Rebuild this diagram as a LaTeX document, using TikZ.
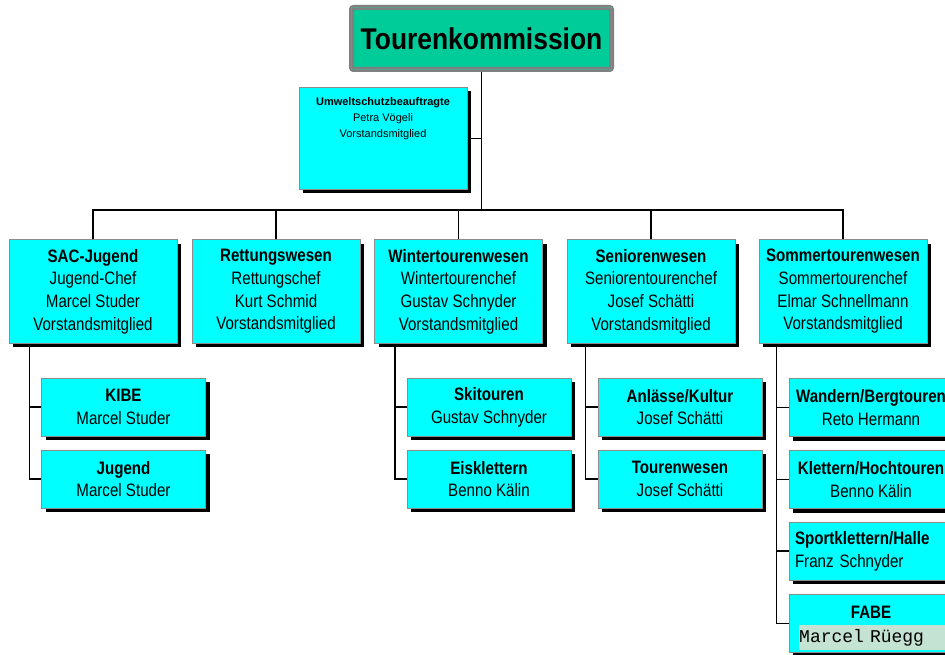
\documentclass[tikz,border=0pt]{standalone}
\usepackage{fontspec}
\setmainfont{Liberation Sans}
\newfontfamily\narrowfont[FakeStretch=0.84]{Liberation Sans}
\newfontfamily\titlefont[FakeStretch=0.88]{Liberation Sans}
\newfontfamily\mymono{Liberation Mono}
\usetikzlibrary{shadows}
\definecolor{cyanbox}{HTML}{00FFFF}
\definecolor{titlegreen}{HTML}{00CC99}
\definecolor{boxgray}{HTML}{8C8C8C}
\definecolor{titlegray}{HTML}{7F7F7F}
\definecolor{titleline}{HTML}{5E9E8A}
\definecolor{monobg}{HTML}{C5E3D2}
\begin{document}
\begin{tikzpicture}[x=1pt,y=-1pt,
  conn/.style={draw=black, line width=1.1pt},
  box/.style={draw=boxgray, line width=1pt, fill=cyanbox,
    drop shadow={shadow xshift=4pt, shadow yshift=-4pt, fill=black, opacity=1},
    inner sep=0pt, align=center, font=\narrowfont\fontsize{18}{22.7}\selectfont},
  mainbox/.style={box, minimum width=168pt, minimum height=103pt},
  subbox/.style={box, minimum width=164pt, minimum height=58pt},
  titlebox/.style={draw=titlegray, line width=5pt, rounded corners=2pt, fill=titlegreen,
    minimum width=260pt, minimum height=62pt, inner sep=0pt,
    font=\titlefont\bfseries\fontsize{30}{36}\selectfont}
]
\useasboundingbox (0,0) rectangle (945,655);
\fill[white] (0,0) rectangle (945,655);

% title
\node[titlebox] (tk) at (481.5,38.5) {Tourenkommission};
\draw[titleline, line width=0.6pt] ([shift={(2.5,2.5)}]tk.north west) rectangle ([shift={(-2.5,-2.5)}]tk.south east);

% Umwelt
\node[box, font=\fontsize{11}{16}\selectfont] (uw) at (383,138.5)
  {\parbox[c][102pt][t]{168pt}{\centering\vspace{10pt}\textbf{Umweltschutzbeauftragte}\\Petra Vögeli\\Vorstandsmitglied}};

% main boxes
\node[mainbox] (sac) at (93,291.5) {\textbf{SAC-Jugend}\\Jugend-Chef\\Marcel Studer\\Vorstandsmitglied};
\node[mainbox] (ret) at (276,291.5) {\textbf{Rettungswesen}\\Rettungschef\\Kurt Schmid\\Vorstandsmitglied};
\node[mainbox] (win) at (458.5,291.5) {\textbf{Wintertourenwesen}\\Wintertourenchef\\Gustav Schnyder\\Vorstandsmitglied};
\node[mainbox] (sen) at (651,291.5) {\textbf{Seniorenwesen}\\Seniorentourenchef\\Josef Schätti\\Vorstandsmitglied};
\node[mainbox] (som) at (843,291.5) {\textbf{Sommertourenwesen}\\Sommertourenchef\\Elmar Schnellmann\\Vorstandsmitglied};

% sub boxes
\node[subbox] (kibe) at (123.5,407) {\textbf{KIBE}\\Marcel Studer};
\node[subbox] (jug) at (123.5,479) {\textbf{Jugend}\\Marcel Studer};
\node[subbox] (ski) at (489,407) {\textbf{Skitouren}\\Gustav Schnyder};
\node[subbox] (eis) at (489,479) {\textbf{Eisklettern}\\Benno Kälin};
\node[subbox] (anl) at (680,407) {\textbf{Anlässe/Kultur}\\Josef Schätti};
\node[subbox] (tou) at (680,479) {\textbf{Tourenwesen}\\Josef Schätti};
\node[subbox] (wan) at (871,407.5) {\textbf{Wandern/Bergtouren}\\Reto Hermann};
\node[subbox] (kle) at (871,479.5) {\textbf{Klettern/Hochtouren}\\Benno Kälin};
\node[subbox, align=left, text width=152pt] (spo) at (871,551) {\textbf{Sportklettern/Halle}\\Franz Schnyder};
\node[subbox, font=\narrowfont\fontsize{18}{23}\selectfont] (fab) at (871,623.5) {\textbf{FABE}\\\mbox{}};
\node[fill=monobg, anchor=west, inner xsep=0pt, inner ysep=0pt, minimum height=25pt, text width=160pt,
  align=left, font=\mymono\fontsize{18}{20}\selectfont] (fabname) at (799,637.5) {Marcel Rüegg};

% connectors
\coordinate (busy) at (0,210);
\draw[conn] (tk.south) -- (tk.south |- busy);
\draw[conn] (uw.east) -- (uw.east -| tk.south);
\draw[conn] (sac.north) -- (sac.north |- busy) -- (som.north |- busy) -- (som.north);
\foreach \n in {ret,win,sen} \draw[conn] (\n.north) -- (\n.north |- busy);

\coordinate (sacd) at ([xshift=21pt]sac.south west);
\draw[conn] (sacd) |- (jug.west);
\draw[conn] (kibe.west) -- (kibe.west -| sacd);

\coordinate (wind) at ([xshift=21pt]win.south west);
\draw[conn] (wind) |- (eis.west);
\draw[conn] (ski.west) -- (ski.west -| wind);

\coordinate (send) at ([xshift=19pt]sen.south west);
\draw[conn] (send) |- (tou.west);
\draw[conn] (anl.west) -- (anl.west -| send);

\coordinate (somd) at ([xshift=18pt]som.south west);
\draw[conn] (somd) |- (fab.west);
\foreach \n in {wan,kle,spo} \draw[conn] (\n.west) -- (\n.west -| somd);
\end{tikzpicture}
\end{document}
